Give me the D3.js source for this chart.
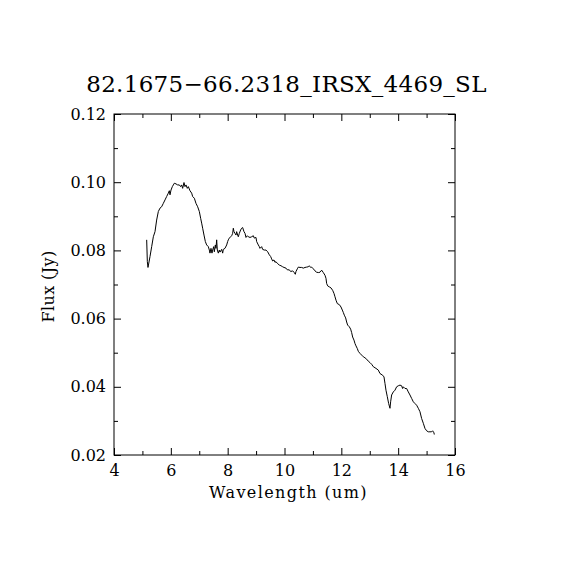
<!DOCTYPE html>
<html>
<head>
<meta charset="utf-8">
<script src="https://cdn.jsdelivr.net/npm/d3@7"></script>
<style>
  body { margin: 0; background: #fff; }
  text { font-family: "DejaVu Serif", serif; fill: #000; }
</style>
</head>
<body>
<script>
// spectrum
const wavelength = [
  5.150, 5.173, 5.196, 5.267, 5.326, 5.384, 5.443, 5.501, 5.560, 5.619,
  5.677, 5.736, 5.795, 5.853, 5.912, 5.947, 5.971, 6.006, 6.053, 6.088,
  6.123, 6.182, 6.240, 6.299, 6.346, 6.381, 6.416, 6.463, 6.498, 6.534,
  6.580, 6.616, 6.674, 6.733, 6.768, 6.827, 6.885, 6.944, 7.003, 7.050,
  7.085, 7.120, 7.167, 7.214, 7.261, 7.319, 7.355, 7.378, 7.413, 7.448,
  7.472, 7.507, 7.531, 7.566, 7.589, 7.613, 7.636, 7.671, 7.706, 7.730,
  7.789, 7.824, 7.847, 7.906, 7.965, 8.000, 8.023, 8.058, 8.105, 8.140,
  8.176, 8.199, 8.223, 8.258, 8.293, 8.316, 8.352, 8.375, 8.410, 8.457,
  8.492, 8.528, 8.574, 8.610, 8.645, 8.692, 8.727, 8.786, 8.844, 8.903,
  8.938, 8.997, 9.020, 9.079, 9.114, 9.137, 9.196, 9.231, 9.290, 9.349,
  9.407, 9.466, 9.513, 9.548, 9.583, 9.630, 9.665, 9.700, 9.747, 9.818,
  9.876, 9.935, 9.982, 10.052, 10.099, 10.170, 10.217, 10.287, 10.334, 10.381,
  10.404, 10.451, 10.486, 10.545, 10.604, 10.662, 10.721, 10.780, 10.838, 10.873,
  10.920, 10.956, 11.014, 11.073, 11.131, 11.190, 11.249, 11.308, 11.366, 11.425,
  11.460, 11.483, 11.519, 11.577, 11.636, 11.694, 11.741, 11.777, 11.812, 11.859,
  11.929, 11.988, 12.035, 12.070, 12.105, 12.152, 12.187, 12.222, 12.281, 12.328,
  12.363, 12.398, 12.445, 12.480, 12.516, 12.563, 12.598, 12.656, 12.715, 12.774,
  12.832, 12.891, 12.950, 13.008, 13.067, 13.125, 13.219, 13.301, 13.360, 13.454,
  13.501, 13.536, 13.571, 13.618, 13.665, 13.712, 13.735, 13.770, 13.829, 13.888,
  13.946, 14.005, 14.064, 14.122, 14.157, 14.181, 14.240, 14.298, 14.357, 14.415,
  14.474, 14.533, 14.591, 14.650, 14.709, 14.767, 14.826, 14.885, 14.943, 15.002,
  15.060, 15.119, 15.177, 15.213, 15.260, 15.271
];
const flux = [
  0.0831, 0.0767, 0.0750, 0.0782, 0.0811, 0.0840, 0.0855, 0.0889, 0.0914, 0.0924,
  0.0928, 0.0938, 0.0948, 0.0958, 0.0968, 0.0975, 0.0963, 0.0977, 0.0987, 0.0992,
  0.0997, 0.0995, 0.0992, 0.0992, 0.0987, 0.0992, 0.0982, 0.0999, 0.0987, 0.0992,
  0.0982, 0.0987, 0.0975, 0.0968, 0.0958, 0.0953, 0.0938, 0.0928, 0.0914, 0.0894,
  0.0880, 0.0865, 0.0845, 0.0826, 0.0816, 0.0811, 0.0801, 0.0792, 0.0806, 0.0792,
  0.0801, 0.0811, 0.0796, 0.0816, 0.0806, 0.0831, 0.0801, 0.0792, 0.0801, 0.0795,
  0.0803, 0.0792, 0.0803, 0.0806, 0.0816, 0.0826, 0.0831, 0.0836, 0.0840, 0.0843,
  0.0850, 0.0865, 0.0855, 0.0850, 0.0845, 0.0855, 0.0845, 0.0840, 0.0850, 0.0860,
  0.0865, 0.0867, 0.0855, 0.0850, 0.0838, 0.0843, 0.0840, 0.0838, 0.0840, 0.0843,
  0.0836, 0.0838, 0.0826, 0.0816, 0.0811, 0.0806, 0.0811, 0.0803, 0.0801, 0.0801,
  0.0796, 0.0787, 0.0782, 0.0775, 0.0769, 0.0772, 0.0765, 0.0767, 0.0762, 0.0757,
  0.0755, 0.0752, 0.0750, 0.0748, 0.0743, 0.0743, 0.0738, 0.0740, 0.0736, 0.0730,
  0.0738, 0.0746, 0.0751, 0.0750, 0.0750, 0.0748, 0.0750, 0.0751, 0.0752, 0.0755,
  0.0750, 0.0751, 0.0746, 0.0740, 0.0736, 0.0735, 0.0736, 0.0742, 0.0735, 0.0727,
  0.0718, 0.0703, 0.0696, 0.0693, 0.0690, 0.0683, 0.0674, 0.0664, 0.0654, 0.0644,
  0.0641, 0.0634, 0.0625, 0.0618, 0.0610, 0.0602, 0.0590, 0.0581, 0.0576, 0.0569,
  0.0559, 0.0546, 0.0537, 0.0527, 0.0520, 0.0512, 0.0504, 0.0498, 0.0493, 0.0488,
  0.0485, 0.0481, 0.0475, 0.0471, 0.0466, 0.0459, 0.0454, 0.0449, 0.0439, 0.0434,
  0.0429, 0.0410, 0.0390, 0.0371, 0.0351, 0.0337, 0.0356, 0.0376, 0.0385, 0.0390,
  0.0400, 0.0403, 0.0405, 0.0403, 0.0395, 0.0400, 0.0395, 0.0395, 0.0385, 0.0376,
  0.0366, 0.0356, 0.0351, 0.0346, 0.0337, 0.0327, 0.0307, 0.0293, 0.0278, 0.0271,
  0.0268, 0.0268, 0.0268, 0.0271, 0.0265, 0.0260
];

const xTicks = [4, 6, 8, 10, 12, 14, 16];
const xMinor = [5, 7, 9, 11, 13, 15];
const yTicks = [0.02, 0.04, 0.06, 0.08, 0.10, 0.12];
const yMinor = [0.03, 0.05, 0.07, 0.09, 0.11];

const title = "82.1675\u221266.2318_IRSX_4469_SL";
const xLabel = "Wavelength (um)";
const yLabel = "Flux (Jy)";

var W = 570, H = 570;
var m = {left: 114, right: 115, top: 114, bottom: 115};
var pw = W - m.left - m.right, ph = H - m.top - m.bottom;

var svg = d3.select("body").append("svg").attr("width", W).attr("height", H);
var g = svg.append("g").attr("transform", "translate(" + m.left + "," + m.top + ")");

var x = d3.scaleLinear().domain([4, 16]).range([0, pw]);
var y = d3.scaleLinear().domain([0.02, 0.12]).range([ph, 0]);

// major + minor ticks on all four sides, pointing inward
function ticks(axisFn, scale, vals, size, labels, pad, tr) {
  var a = axisFn(scale).tickValues(vals).tickSize(-size).tickPadding(pad);
  if (labels) a.tickFormat(labels); else a.tickFormat("");
  var s = g.append("g").attr("transform", tr).call(a);
  s.select(".domain").remove();
  s.selectAll("line").attr("stroke", "#000");
  s.selectAll("text").style("font-size", "16px").attr("fill", "#000");
  return s;
}
ticks(d3.axisBottom, x, xTicks, 7, d3.format("d"), 10, "translate(0," + ph + ")");
ticks(d3.axisBottom, x, xMinor, 4, null, 0, "translate(0," + ph + ")");
ticks(d3.axisTop, x, xTicks, 7, null, 0, "translate(0,0)");
ticks(d3.axisTop, x, xMinor, 4, null, 0, "translate(0,0)");
ticks(d3.axisLeft, y, yTicks, 7, d3.format(".2f"), 8, "translate(0,0)");
ticks(d3.axisLeft, y, yMinor, 4, null, 0, "translate(0,0)");
ticks(d3.axisRight, y, yTicks, 7, null, 0, "translate(" + pw + ",0)");
ticks(d3.axisRight, y, yMinor, 4, null, 0, "translate(" + pw + ",0)");

g.append("rect").attr("width", pw).attr("height", ph)
  .attr("fill", "none").attr("stroke", "#000").attr("stroke-width", 1);

var line = d3.line()
  .x(function (d, i) { return x(wavelength[i]); })
  .y(function (d) { return y(d); });

g.append("path").datum(flux)
  .attr("d", line)
  .attr("fill", "none")
  .attr("stroke", "#000")
  .attr("stroke-width", 1);

svg.append("text").attr("x", m.left + pw / 2 + 2).attr("y", 92)
  .attr("text-anchor", "middle").style("font-size", "23px")
  .style("letter-spacing", "0.3px").text(title);

svg.append("text").attr("x", m.left + pw / 2 + 4).attr("y", 498)
  .attr("text-anchor", "middle").style("font-size", "16px")
  .style("letter-spacing", "1.4px").text(xLabel);

svg.append("text").attr("transform", "translate(54," + (m.top + ph / 2 + 2) + ") rotate(-90)")
  .attr("text-anchor", "middle").style("font-size", "16px")
  .style("letter-spacing", "0.4px").text(yLabel);
</script>
</body>
</html>
